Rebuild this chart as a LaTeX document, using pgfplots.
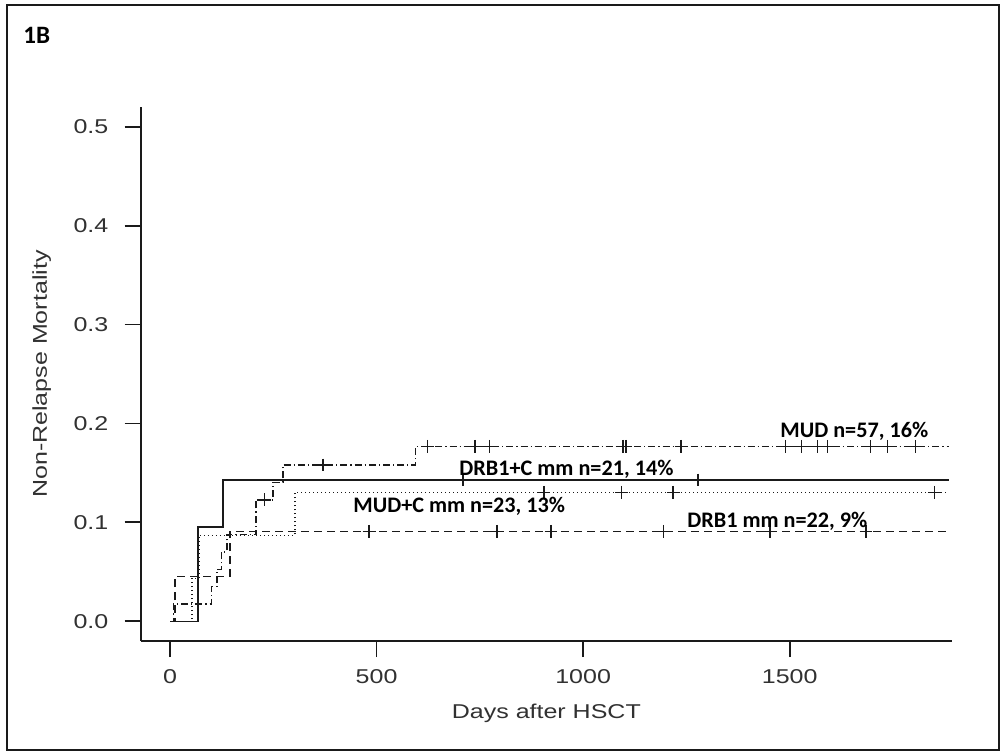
\documentclass[border=0pt]{standalone}
\usepackage{pgfplots}
\pgfplotsset{compat=1.18}
\usepackage{fontspec}
\setmainfont{Liberation Sans}
\newfontfamily\rfont[FakeStretch=1.25]{Liberation Sans}
\newfontfamily\calfont{Carlito}
\definecolor{ink}{HTML}{1A1A1A}
\begin{document}
\begin{tikzpicture}
\begin{scope}[x=0.5pt,y=-0.5pt]
\useasboundingbox (0,0) rectangle (1004,755);
\draw[line width=0.75pt, ink] (7,5) rectangle (999,750);
\node[anchor=base west, inner sep=0pt, font=\calfont\bfseries\fontsize{12.5}{14}\selectfont] at (23,43) {1B};
\end{scope}
\begin{axis}[
  at={(70.35pt,-320.5pt)}, anchor=south west,
  width=405.65pt, height=267pt, scale only axis,
  xmin=-71, xmax=1893, ymin=-0.02, ymax=0.52,
  axis x line*=bottom, axis y line*=left,
  axis line style={line width=0.9pt, ink, -},
  tick align=outside, major tick length=8pt,
  tick style={line width=0.9pt, ink},
  xtick={0,500,1000,1500}, xticklabels={0,500,1000,1500},
  ytick={0,0.1,0.2,0.3,0.4,0.5}, yticklabels={0.0,0.1,0.2,0.3,0.4,0.5},
  /pgf/number format/assume math mode=true,
  ticklabel style={font=\rfont\fontsize{10}{12}\selectfont, text=ink!90},
  xticklabel style={inner sep=0pt, yshift=-6pt},
  yticklabel style={inner sep=0pt, xshift=-8pt},
  xlabel={Days after HSCT}, ylabel={Non-Relapse Mortality},
  label style={font=\rfont\fontsize{10}{12}\selectfont, text=ink!90},
  xlabel style={at={(axis description cs:0.5,-0.135)}, anchor=center},
  ylabel style={at={(axis description cs:-0.122,0.5)}, anchor=center},
  clip=false,
  every axis plot/.append style={line width=0.7pt, ink},
]
% MUD (dash-dot)
\addplot[const plot, dash pattern=on 3.5pt off 1.5pt on 0.6pt off 1.5pt] coordinates {
(0,0)(8,0.0175)(100,0.0351)(114,0.0526)(125,0.0702)(138,0.0877)(208,0.1228)(249,0.1404)(273,0.1579)(594,0.1769)(1885,0.1769)};
\addplot[only marks, mark=+, mark size=3.2pt, mark options={solid}] coordinates {
(229,0.1228)(370,0.1579)(624,0.1769)(738,0.1769)(773,0.1769)(1097,0.1769)(1104,0.1769)(1237,0.1769)(1490,0.1769)(1529,0.1769)(1568,0.1769)(1592,0.1769)(1696,0.1769)(1737,0.1769)(1804,0.1769)};
% DRB1+C mm (solid)
\addplot[const plot, solid] coordinates {(0,0)(68,0.0952)(128,0.1429)(1885,0.1429)};
\addplot[only marks, mark=+, mark size=3.2pt, mark options={solid}] coordinates {(709,0.1429)(1278,0.1429)};
% MUD+C mm (dotted)
\addplot[const plot, dash pattern=on 0.6pt off 1.4pt] coordinates {(0,0)(53,0.0435)(70,0.0870)(303,0.1304)(1885,0.1304)};
\addplot[only marks, mark=+, mark size=3.2pt, mark options={solid}] coordinates {(905,0.1304)(1093,0.1304)(1218,0.1304)(1850,0.1304)};
% DRB1 mm (dashed)
\addplot[const plot, dash pattern=on 4pt off 2.5pt] coordinates {(0,0)(12,0.0455)(145,0.0909)(1885,0.0909)};
\addplot[only marks, mark=+, mark size=3.2pt, mark options={solid}] coordinates {(482,0.0909)(792,0.0909)(922,0.0909)(1194,0.0909)(1452,0.0909)(1685,0.0909)};
\end{axis}
\begin{scope}[x=0.5pt,y=-0.5pt, every node/.style={anchor=base west, inner sep=0pt, font=\calfont\bfseries\fontsize{11.1}{13}\selectfont}]
\node at (780,437) {MUD n=57, 16\%};
\node at (459,475) {DRB1+C mm n=21, 14\%};
\node at (353,512) {MUD+C mm n=23, 13\%};
\node at (687,527) {DRB1 mm n=22, 9\%};
\end{scope}
\end{tikzpicture}
\end{document}
